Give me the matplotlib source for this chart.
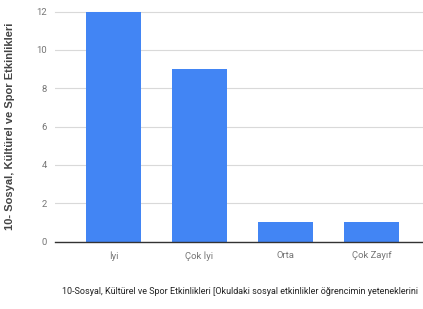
import matplotlib
matplotlib.use("Agg")
import matplotlib.pyplot as plt

categories = ["İyi", "Çok İyi", "Orta", "Çok Zayıf"]
counts = [12, 9, 1, 1]
y_ticks = [0, 2, 4, 6, 8, 10, 12]
y_label = "10- Sosyal, Kültürel ve Spor Etkinlikleri"
x_label = ("10-Sosyal, Kültürel ve Spor Etkinlikleri [Okuldaki sosyal etkinlikler "
           "öğrencimin yeteneklerini")

W, H = 423, 309
fig = plt.figure(figsize=(W / 100, H / 100), dpi=100)
ax = fig.add_axes([55 / W, (H - 241.5) / H, (W - 55) / W, 230 / H])

x = list(range(len(categories)))
ax.bar(x, counts, width=0.64, color="#4285F4", zorder=3)

ax.set_xlim(-0.68, 3.6)
ax.set_ylim(0, 12)
ax.set_yticks(y_ticks)
ax.set_xticks(x, categories)
ax.grid(axis="y", color="#d9d9d9", linewidth=0.8, zorder=0)
ax.yaxis.get_gridlines()[-1].set_clip_on(False)
for side in ["top", "right", "left"]:
    ax.spines[side].set_visible(False)
ax.spines["bottom"].set_color("#333333")
ax.spines["bottom"].set_linewidth(1.0)
ax.spines["bottom"].set_zorder(4)
ax.tick_params(length=0, labelsize=6.8, labelcolor="#757575", pad=7)
ax.tick_params(axis="y", pad=6)
for lbl in ax.get_xticklabels() + ax.get_yticklabels():
    lbl.set_family("Roboto")

fig.text(10 / W, (H - 126) / H, y_label, rotation=90, ha="center", va="center",
         fontsize=8, color="#444444", family="Liberation Sans", fontweight="bold")
fig.text(62 / W, (H - 292) / H, x_label, ha="left", va="center",
         fontsize=6.5, color="#222222", family="Roboto")

fig.savefig("out.png", dpi=100)
